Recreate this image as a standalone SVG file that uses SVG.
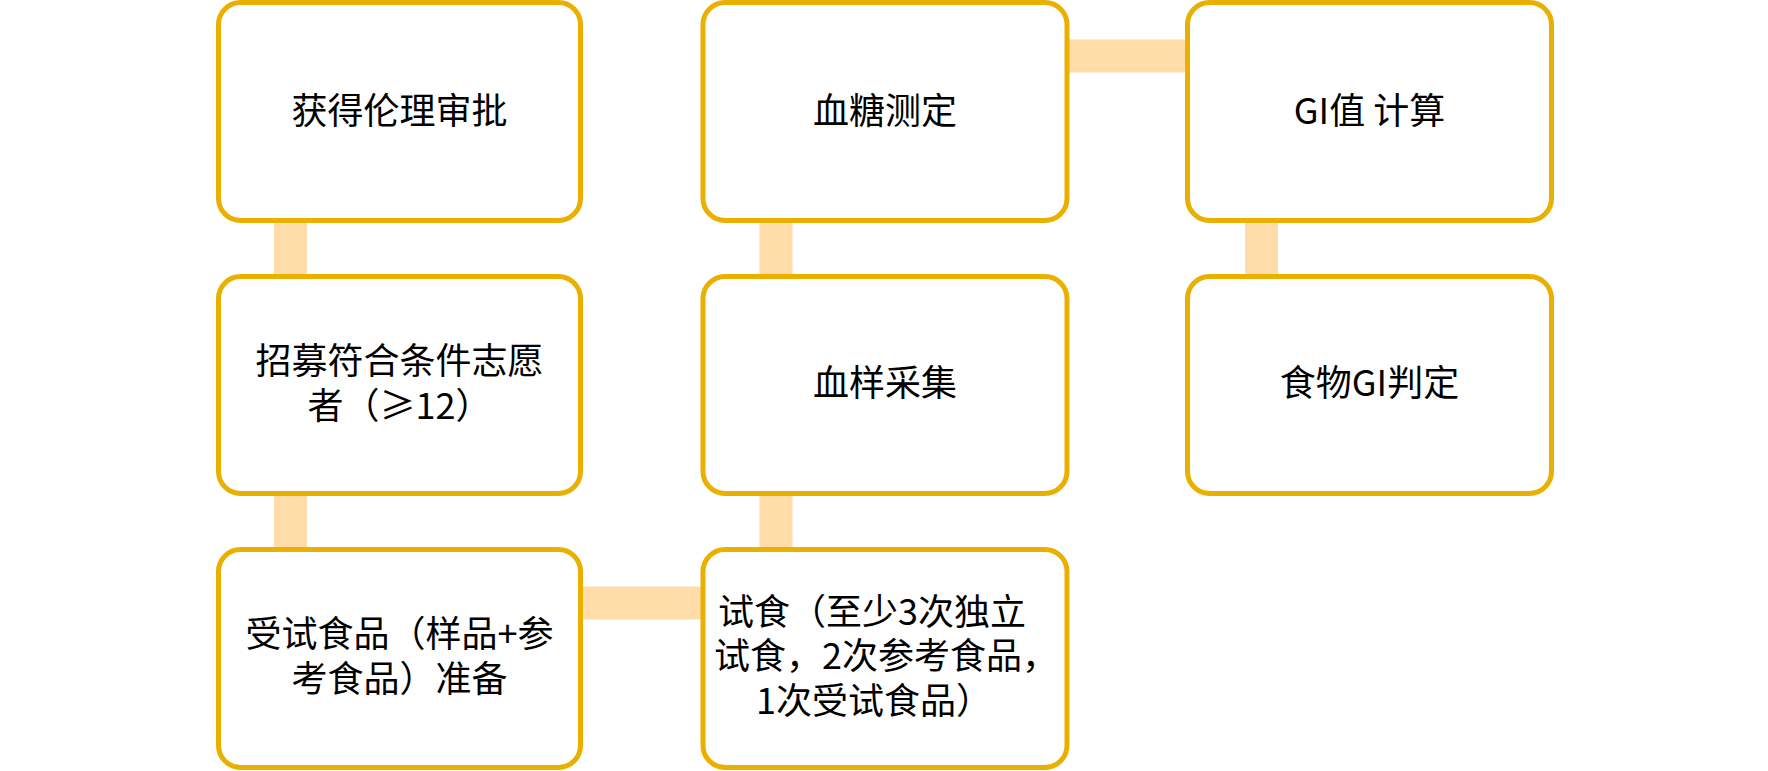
<svg xmlns="http://www.w3.org/2000/svg" width="1768" height="771" viewBox="0 0 1768 771">
<style>
.box{fill:#FFFFFF;stroke:#E9B000;stroke-width:5}
.conn{stroke:#FFDCA8;stroke-width:33;fill:none}
text{font-family:"Noto Sans CJK SC","Noto Sans",sans-serif;font-size:36px;fill:#000000}
.c{text-anchor:middle}
</style>
<rect width="1768" height="771" fill="#FFFFFF"/>
<g id="connectors">
<line class="conn" x1="290.5" y1="200" x2="290.5" y2="300"/>
<line class="conn" x1="290.5" y1="480" x2="290.5" y2="570"/>
<line class="conn" x1="560" y1="603" x2="720" y2="603"/>
<line class="conn" x1="776" y1="480" x2="776" y2="570"/>
<line class="conn" x1="776" y1="200" x2="776" y2="300"/>
<line class="conn" x1="1050" y1="56" x2="1200" y2="56"/>
<line class="conn" x1="1261.5" y1="200" x2="1261.5" y2="300"/>
</g>
<g id="n1">
<rect class="box" x="218.5" y="2.5" width="362" height="218" rx="22"/>
<text class="c" x="399.5" y="124">获得伦理审批</text>
</g>
<g id="n2">
<rect class="box" x="218.5" y="276.5" width="362" height="217" rx="22"/>
<text class="c"><tspan x="399.5" y="374">招募符合条件志愿</tspan><tspan x="399.5" y="419">者（≥12）</tspan></text>
</g>
<g id="n3">
<rect class="box" x="218.5" y="549.5" width="362" height="218" rx="22"/>
<text class="c"><tspan x="399.5" y="647">受试食品（样品+参</tspan><tspan x="399.5" y="692">考食品）准备</tspan></text>
</g>
<g id="n4">
<rect class="box" x="703" y="549.5" width="364" height="218" rx="22"/>
<text><tspan x="718" y="625">试食（至少3次独立</tspan><tspan x="714" y="669">试食，2次参考食品，</tspan><tspan x="756" y="714">1次受试食品）</tspan></text>
</g>
<g id="n5">
<rect class="box" x="703" y="276.5" width="364" height="217" rx="22"/>
<text class="c" x="885" y="396">血样采集</text>
</g>
<g id="n6">
<rect class="box" x="703" y="2.5" width="364" height="218" rx="22"/>
<text class="c" x="885" y="124">血糖测定</text>
</g>
<g id="n7">
<rect class="box" x="1187.5" y="2.5" width="364" height="218" rx="22"/>
<text class="c" x="1369.5" y="124">GI值 计算</text>
</g>
<g id="n8">
<rect class="box" x="1187.5" y="276.5" width="364" height="217" rx="22"/>
<text class="c" x="1369.5" y="396">食物GI判定</text>
</g>
</svg>
